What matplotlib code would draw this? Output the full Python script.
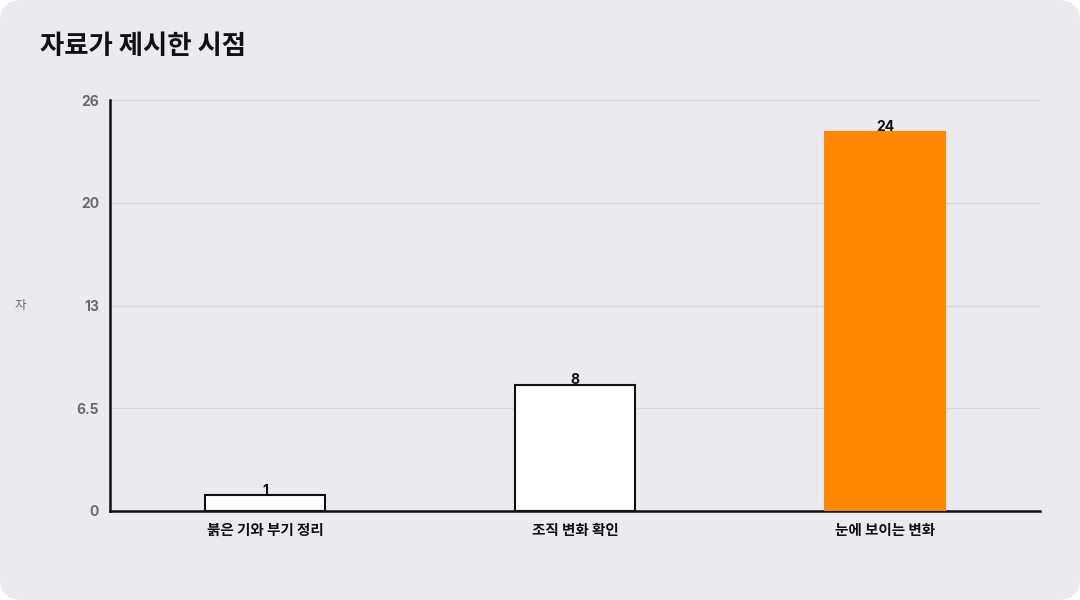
import matplotlib
matplotlib.use("Agg")
import matplotlib.pyplot as plt
from matplotlib.patches import FancyBboxPatch

plt.rcParams['font.family'] = ['Noto Sans CJK KR', 'DejaVu Sans']
NUM_FONT = ['Inter', 'Noto Sans CJK KR', 'DejaVu Sans']

title = "자료가 제시한 시점"
y_label = "자"
categories = ["붉은 기와 부기 정리", "조직 변화 확인", "눈에 보이는 변화"]
values = [1, 8, 24]
bar_colors = ["#FFFFFF", "#FFFFFF", "#FF8800"]
edge_colors = ["#111111", "#111111", "#FF8800"]
y_ticks = [0, 6.5, 13, 19.5, 26]
y_tick_labels = ["0", "6.5", "13", "20", "26"]

BG = "#EBEAF0"

fig = plt.figure(figsize=(10.8, 6.0), dpi=100)
fig.patch.set_facecolor("white")
bg = FancyBboxPatch((0, 0), 1080, 600, boxstyle="round,pad=0,rounding_size=22",
                    transform=None, facecolor=BG, edgecolor="none", zorder=-10)
fig.patches.append(bg)

ax = fig.add_axes([110/1080, 89/600, 930/1080, 411/600])
ax.set_facecolor(BG)

x = list(range(len(categories)))
ax.bar(x, values, width=0.385, color=bar_colors, edgecolor=edge_colors,
       linewidth=1.5, zorder=3)
for xi, v in zip(x, values):
    ax.text(xi, v - 0.15, str(v), ha='center', va='bottom', fontsize=10,
            fontweight='bold', color='#111111', zorder=4, family=NUM_FONT)

ax.set_xlim(-0.5, len(categories) - 0.5)
ax.set_ylim(0, 26)
ax.set_yticks(y_ticks)
ax.set_yticklabels(y_tick_labels)
ax.set_xticks(x)
ax.set_xticklabels(categories)
ax.tick_params(axis='y', length=0, pad=8, labelsize=10, labelcolor='#6b6b6b')
ax.tick_params(axis='x', length=0, pad=8, labelsize=10.5, labelcolor='#111111')
for lab in ax.get_yticklabels():
    lab.set_fontweight('bold')
    lab.set_family(NUM_FONT)
for lab in ax.get_xticklabels():
    lab.set_fontweight('bold')

ax.grid(axis='y', color='#D6D5DC', linewidth=0.9, zorder=0)
ax.set_axisbelow(True)
for s in ['top', 'right']:
    ax.spines[s].set_visible(False)
ax.spines['left'].set_color('#111111')
ax.spines['left'].set_linewidth(1.8)
ax.spines['bottom'].set_color('#111111')
ax.spines['bottom'].set_linewidth(1.8)

fig.text(20/1080, 1 - 306/600, y_label, ha='center', va='center', fontsize=9,
         color='#6b6b6b', rotation=0)
fig.text(40/1080, 1 - 47/600, title, ha='left', va='center', fontsize=19,
         fontweight='bold', color='#111111')

fig.savefig("out.png", dpi=100, facecolor=fig.get_facecolor())
